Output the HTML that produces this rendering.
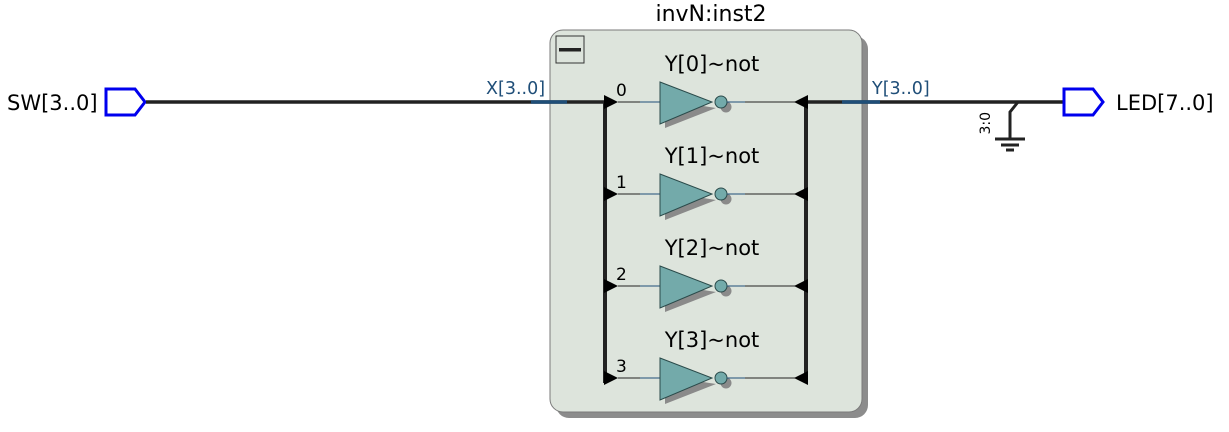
<!DOCTYPE html>
<html><head><meta charset="utf-8"><style>
html,body{margin:0;padding:0;background:#fff;}
svg{display:block;}
text{font-family:"DejaVu Sans","Liberation Sans",sans-serif;}
</style></head><body>
<svg width="1229" height="432" viewBox="0 0 1229 432" xmlns="http://www.w3.org/2000/svg">
<defs>
<g id="row">
<polygon points="604,95 618,102 604,109" fill="#000"/>
<line x1="618" y1="102" x2="660" y2="102" stroke="#222" stroke-width="1"/>
<line x1="640" y1="102" x2="660" y2="102" stroke="#1f4e78" stroke-width="1"/>
<polygon points="665,100 716,108 665,128" fill="#8a8a8a"/>
<circle cx="726" cy="107" r="5.5" fill="#8a8a8a"/>
<polygon points="660,82 712,102 660,124" fill="#73aaaa" stroke="#2a4a4a" stroke-width="1"/>
<circle cx="721" cy="102" r="6" fill="#73aaaa" stroke="#2a4a4a" stroke-width="1"/>
<line x1="727" y1="102" x2="795" y2="102" stroke="#222" stroke-width="1"/>
<line x1="727" y1="102" x2="745" y2="102" stroke="#1f4e78" stroke-width="1"/>
<polygon points="808,95 794,102 808,109" fill="#000"/>
</g>
</defs>
<rect x="556" y="36" width="312" height="382" rx="13" fill="#8c8c8c"/>
<rect x="550" y="30" width="312" height="382" rx="13" fill="#dde4dc" stroke="#7a7a7a" stroke-width="1"/>
<text x="711" y="21" font-size="22" text-anchor="middle" fill="#000">invN:inst2</text>
<rect x="556" y="36" width="28" height="27" fill="none" stroke="#333" stroke-width="1"/>
<rect x="559" y="48" width="22" height="3.5" fill="#222"/>

<text x="7" y="110" font-size="21" fill="#000">SW[3..0]</text>
<polygon points="106,89 135,89 145,102 135,115 106,115" fill="none" stroke="#0000ee" stroke-width="3"/>
<line x1="146" y1="102" x2="605" y2="102" stroke="#222" stroke-width="3.5"/>
<line x1="531" y1="102" x2="567" y2="102" stroke="#1f4e78" stroke-width="3.5"/>
<text x="486" y="94" font-size="17.5" fill="#1f4e78">X[3..0]</text>

<line x1="605" y1="101" x2="605" y2="383" stroke="#222" stroke-width="4"/>
<line x1="806" y1="101" x2="806" y2="383" stroke="#222" stroke-width="4"/>

<line x1="806" y1="102" x2="1063" y2="102" stroke="#222" stroke-width="3.5"/>
<line x1="842" y1="102" x2="880" y2="102" stroke="#1f4e78" stroke-width="3.5"/>
<text x="872" y="94" font-size="17.5" fill="#1f4e78">Y[3..0]</text>
<text x="990" y="112" font-size="14" fill="#000" transform="rotate(-90 990 112)" text-anchor="end">3:0</text>
<polyline points="1018,102 1010,112 1010,138" fill="none" stroke="#222" stroke-width="3"/>
<line x1="995" y1="139" x2="1025" y2="139" stroke="#222" stroke-width="3"/>
<line x1="1001" y1="145" x2="1019" y2="145" stroke="#222" stroke-width="3"/>
<line x1="1006" y1="150" x2="1014" y2="150" stroke="#222" stroke-width="3"/>
<polygon points="1064,89 1093,89 1103,102 1093,115 1064,115" fill="none" stroke="#0000ee" stroke-width="3"/>
<text x="1116" y="110" font-size="21" fill="#000">LED[7..0]</text>

<text x="712" y="71" font-size="21" text-anchor="middle">Y[0]~not</text>
<text x="616" y="96" font-size="17">0</text>
<use href="#row"/>
<text x="712" y="163" font-size="21" text-anchor="middle">Y[1]~not</text>
<text x="616" y="188" font-size="17">1</text>
<use href="#row" transform="translate(0,92)"/>
<text x="712" y="255" font-size="21" text-anchor="middle">Y[2]~not</text>
<text x="616" y="280" font-size="17">2</text>
<use href="#row" transform="translate(0,184)"/>
<text x="712" y="347" font-size="21" text-anchor="middle">Y[3]~not</text>
<text x="616" y="372" font-size="17">3</text>
<use href="#row" transform="translate(0,276)"/>
</svg>
</body></html>
